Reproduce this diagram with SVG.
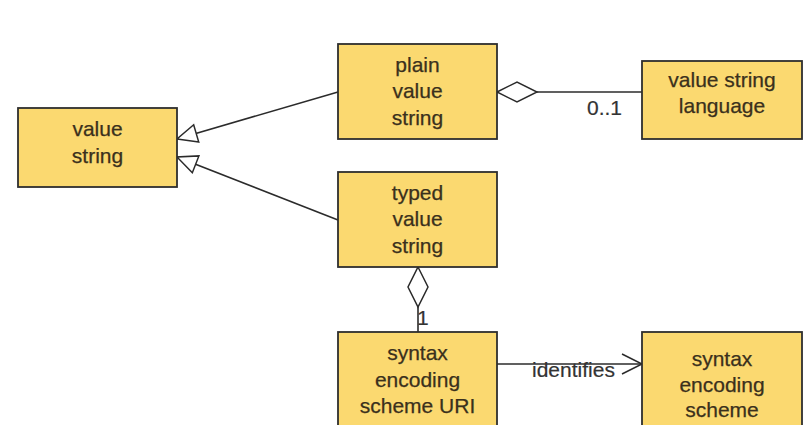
<svg xmlns="http://www.w3.org/2000/svg" width="808" height="425" viewBox="0 0 808 425">
  <style>
    .box { fill: #fbd970; stroke: #2e2e2e; stroke-width: 1.8; }
    .lbl { font-family: "Liberation Sans", Arial, sans-serif; font-size: 21px; fill: #3a301c; stroke: #3a301c; stroke-width: 0.25; text-anchor: middle; }
    .note { font-family: "Liberation Sans", Arial, sans-serif; font-size: 21px; fill: #333333; stroke: #333333; stroke-width: 0.2; }
    .edge { fill: none; stroke: #2b2b2b; stroke-width: 1.6; }
  </style>
  <defs>
    <!-- hollow triangle for generalization -->
    <marker id="gen" markerUnits="userSpaceOnUse" markerWidth="24" markerHeight="24" viewBox="-2 -11 24 22" refX="20" refY="0" orient="auto">
      <path d="M0,-9 L20,0 L0,9 Z" fill="#ffffff" stroke="#2b2b2b" stroke-width="1.5"/>
    </marker>
    <!-- hollow diamond for aggregation -->
    <marker id="agg" markerUnits="userSpaceOnUse" markerWidth="44" markerHeight="24" viewBox="-2 -12 44 24" refX="0" refY="0" orient="auto">
      <path d="M0,0 L20,-10 L40,0 L20,10 Z" fill="#ffffff" stroke="#2b2b2b" stroke-width="1.5"/>
    </marker>
    <!-- open arrowhead for navigable association -->
    <marker id="open" markerUnits="userSpaceOnUse" markerWidth="24" markerHeight="26" viewBox="-22 -12 24 24" refX="0" refY="0" orient="auto">
      <path d="M-20,-10 L0,0 L-20,10" fill="none" stroke="#2b2b2b" stroke-width="1.5"/>
    </marker>
  </defs>

  <g id="connectors">
    <path class="edge" d="M338,92 L177,139" marker-end="url(#gen)"/>
    <path class="edge" d="M338,220 L177,157" marker-end="url(#gen)"/>
    <path class="edge" d="M497,92 L642,92" marker-start="url(#agg)"/>
    <text class="note" x="587" y="115">0..1</text>
    <path class="edge" d="M418,267 L418,332" marker-start="url(#agg)"/>
    <text class="note" x="417" y="325">1</text>
    <path class="edge" d="M497,364 L642,364" marker-end="url(#open)"/>
    <text class="note" x="532" y="377">identifies</text>
  </g>

  <g id="value-string">
    <rect class="box" x="18" y="108" width="159" height="79"/>
    <text class="lbl" x="97.5" y="136">value</text>
    <text class="lbl" x="97.5" y="163">string</text>
  </g>

  <g id="plain-value-string">
    <rect class="box" x="338" y="44" width="159" height="95"/>
    <text class="lbl" x="417.5" y="72">plain</text>
    <text class="lbl" x="417.5" y="98">value</text>
    <text class="lbl" x="417.5" y="125">string</text>
  </g>

  <g id="value-string-language">
    <rect class="box" x="642" y="61" width="160" height="78"/>
    <text class="lbl" x="722" y="87">value string</text>
    <text class="lbl" x="722" y="113">language</text>
  </g>

  <g id="typed-value-string">
    <rect class="box" x="338" y="172" width="159" height="95"/>
    <text class="lbl" x="417.5" y="200">typed</text>
    <text class="lbl" x="417.5" y="226">value</text>
    <text class="lbl" x="417.5" y="253">string</text>
  </g>

  <g id="syntax-encoding-scheme-uri">
    <rect class="box" x="338" y="332" width="159" height="110"/>
    <text class="lbl" x="417.5" y="360">syntax</text>
    <text class="lbl" x="417.5" y="387">encoding</text>
    <text class="lbl" x="417.5" y="413">scheme URI</text>
  </g>

  <g id="syntax-encoding-scheme">
    <rect class="box" x="642" y="332" width="160" height="110"/>
    <text class="lbl" x="722" y="366">syntax</text>
    <text class="lbl" x="722" y="392">encoding</text>
    <text class="lbl" x="722" y="417">scheme</text>
  </g>
</svg>
